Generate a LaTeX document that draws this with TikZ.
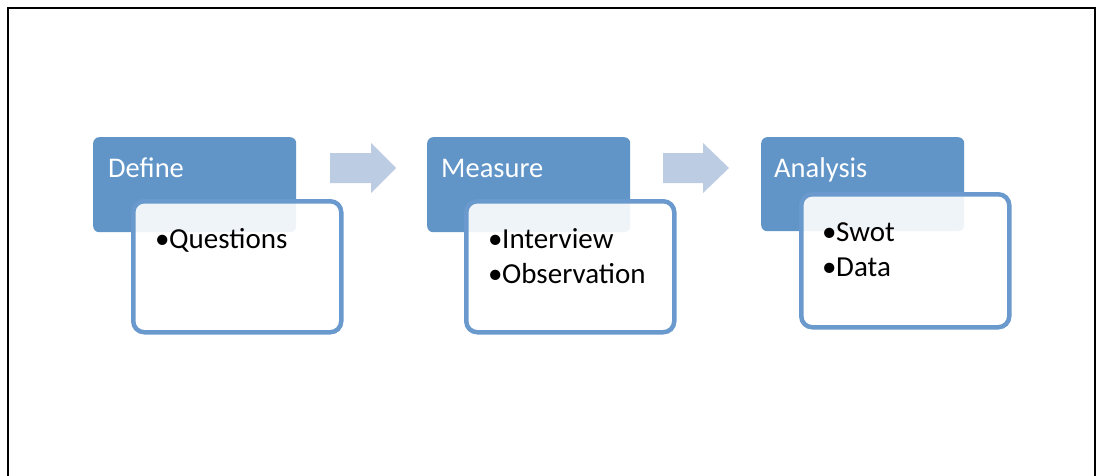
\documentclass[tikz,border=0pt]{standalone}
\usepackage{fontspec}
\setmainfont{Carlito}
\definecolor{headblue}{HTML}{6195C8}
\definecolor{edgeblue}{HTML}{6A9ACD}
\definecolor{arrowblue}{HTML}{BCCDE3}
\tikzset{
  x=1pt, y=-1pt,
  header/.style={draw=none, fill=headblue, rounded corners=6pt, inner sep=0pt,
                 minimum width=203pt, minimum height=95pt, anchor=north west},
  headtext/.style={anchor=base west, inner sep=0pt, text=white,
                   font=\fontsize{28.5}{34}\selectfont},
  itembox/.style={draw=edgeblue, line width=4.5pt, fill=white, fill opacity=0.9,
                  rounded corners=11pt, inner sep=0pt, anchor=north west,
                  minimum width=208pt, minimum height=131pt},
  itemtext/.style={anchor=base west, inner sep=0pt, text=black,
                   font=\fontsize{29}{35}\selectfont},
  blockarrow/.style={fill=arrowblue, draw=none},
}
\newcommand{\bul}[1]{\makebox[14pt][l]{•}#1}
\begin{document}
\begin{tikzpicture}
\useasboundingbox (0,0) rectangle (1097,476);
\fill[white] (0,0) rectangle (1097,476);
% outer frame, open at the bottom
\draw[line width=2.2pt] (8,476) -- (8,8) -- (1095,8) -- (1095,476);

% step 1
\node[header] (defh) at (93,137) {};
\node[headtext] (deft) at (108,177) {Define};
\node[itembox] (defb) at (131,199) {};
\node[itemtext] (defi1) at (155,248) {\bul{Questions}};

% step 2
\node[header] (meah) at (427,137) {};
\node[headtext] (meat) at (441,177) {Measure};
\node[itembox] (meab) at (464,199) {};
\node[itemtext] (meai1) at (488,248) {\bul{Interview}};
\node[itemtext] (meai2) at (488,283) {\bul{Observation}};

% step 3
\node[header, minimum height=94pt] (anah) at (761,137) {};
\node[headtext] (anat) at (774,177) {Analysis};
\node[itembox, minimum height=133pt] (anab) at (799,192) {};
\node[itemtext] (anai1) at (822,241) {\bul{Swot}};
\node[itemtext] (anai2) at (822,276) {\bul{Data}};

% block arrows between the steps
\coordinate (a1) at (330,153);
\fill[blockarrow] (a1) -- ++(41,0) -- ++(0,-10) -- ++(25,25) -- ++(-25,25) -- ++(0,-10) -- ++(-41,0) -- cycle;
\coordinate (a2) at (663,153);
\fill[blockarrow] (a2) -- ++(40,0) -- ++(0,-10) -- ++(26,25) -- ++(-26,25) -- ++(0,-10) -- ++(-40,0) -- cycle;
\end{tikzpicture}
\end{document}
